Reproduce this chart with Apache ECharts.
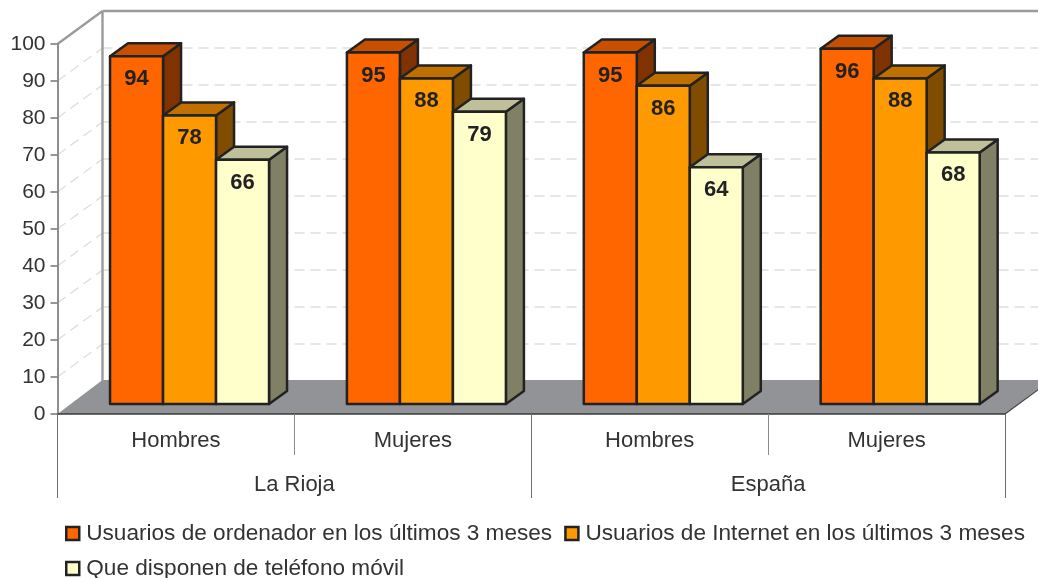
<!DOCTYPE html>
<html>
<head>
<meta charset="utf-8">
<style>html,body{margin:0;padding:0;background:#fff}#c{width:1038px;height:578px}</style>
<script src="https://cdn.jsdelivr.net/npm/echarts@6/dist/echarts.min.js"></script>
</head>
<body>
<div id="c"></div>
<script>
const subCategories = ['Hombres', 'Mujeres', 'Hombres', 'Mujeres'];
const regions = ['La Rioja', 'España'];
const yTicks = [0, 10, 20, 30, 40, 50, 60, 70, 80, 90, 100];
const ordenador = [94, 95, 95, 96];
const internet = [78, 88, 86, 88];
const movil = [66, 79, 64, 68];
const names = ['Usuarios de ordenador en los últimos 3 meses', 'Usuarios de Internet en los últimos 3 meses', 'Que disponen de teléfono móvil'];
const FONT = '"Liberation Sans", Arial, sans-serif';
const INK = '#333333';
const EDGE = '#222222';

const wallDX = 45, wallDY = -33;       // oblique projection of the chart box
const frontDX = 13.6, frontDY = -10;   // front plane of the bars
const depthDX = 18, depthDY = -13;     // bar depth
const barW = 53;

const chart = echarts.init(document.getElementById('c'), null, { renderer: 'canvas' });

function renderWalls(params, api) {
  const cs = params.coordSys;
  const L = cs.x, R = cs.x + cs.width, B = api.coord([0, 0])[1], T = api.coord([0, 100])[1];
  const kids = [];
  kids.push({ type: 'polygon', shape: { points: [[L, B], [R, B], [R + wallDX, B + wallDY - 1], [L + wallDX, B + wallDY - 1]] },
    style: { fill: '#929397', stroke: null } });
  yTicks.forEach(v => {
    if (v === 0 || v === 100) return;
    const y = api.coord([0, v])[1];
    const st = { stroke: '#dedede', lineWidth: 1.3, lineDash: [10, 6], fill: null };
    kids.push({ type: 'line', shape: { x1: L + wallDX, y1: y + wallDY, x2: R + wallDX, y2: y + wallDY }, style: st });
    kids.push({ type: 'line', shape: { x1: L, y1: y, x2: L + wallDX, y2: y + wallDY }, style: st });
  });
  const wall = { stroke: '#9b9b9d', lineWidth: 2.4, fill: null };
  kids.push({ type: 'line', shape: { x1: L + wallDX, y1: B + wallDY, x2: L + wallDX, y2: T + wallDY }, style: wall });
  kids.push({ type: 'line', shape: { x1: L + wallDX, y1: T + wallDY, x2: R + wallDX, y2: T + wallDY }, style: wall });
  kids.push({ type: 'line', shape: { x1: L, y1: T, x2: L + wallDX, y2: T + wallDY }, style: wall });
  kids.push({ type: 'line', shape: { x1: R, y1: B, x2: R + wallDX, y2: B + wallDY },
    style: { stroke: '#444', lineWidth: 1.2, fill: null } });
  return { type: 'group', children: kids, silent: true };
}

function barRenderer(slot, front, top, side) {
  return function (params, api) {
    const cat = api.value(0), val = api.value(1);
    const base = api.coord([cat, 0]), head = api.coord([cat, val]);
    const x0 = base[0] + frontDX + (slot - 1.5) * barW, x1 = x0 + barW;
    const yB = base[1] + frontDY, yT = head[1] + frontDY;
    const stroke = { stroke: EDGE, lineWidth: 2.5, lineJoin: 'round' };
    return {
      type: 'group',
      children: [
        { type: 'polygon', shape: { points: [[x1, yT], [x1 + depthDX, yT + depthDY], [x1 + depthDX, yB + depthDY], [x1, yB]] },
          style: Object.assign({ fill: side }, stroke) },
        { type: 'polygon', shape: { points: [[x0, yT], [x0 + depthDX, yT + depthDY], [x1 + depthDX, yT + depthDY], [x1, yT]] },
          style: Object.assign({ fill: top }, stroke) },
        { type: 'rect', shape: { x: x0, y: yT, width: barW, height: yB - yT },
          style: Object.assign({ fill: front }, stroke) },
        { type: 'text', x: (x0 + x1) / 2, y: yT + 23,
          style: { text: String(val), fill: EDGE, font: 'bold 22px ' + FONT, align: 'center', verticalAlign: 'middle' } }
      ]
    };
  };
}

function barSeries(i, values, front, top, side) {
  return {
    type: 'custom', name: names[i], z: 3, clip: false, color: front,
    itemStyle: { color: front },
    encode: { x: 0, y: 1 },
    data: values.map((v, k) => [k, v]),
    renderItem: barRenderer(i, front, top, side)
  };
}

chart.setOption({
  animation: false,
  backgroundColor: '#ffffff',
  textStyle: { fontFamily: FONT },
  grid: { left: 57.5, right: 33, top: 44, bottom: 164, containLabel: false },
  xAxis: [
    { type: 'category', data: subCategories, position: 'bottom', z: 5,
      axisLine: { show: true, lineStyle: { color: '#3a3a3a', width: 1.5 } },
      axisTick: { show: true, length: 41, lineStyle: { color: '#8a8a8a', width: 1 } },
      axisLabel: { color: INK, fontSize: 22, fontFamily: FONT, margin: 16 } },
    { type: 'category', data: regions, position: 'bottom', z: 5,
      axisLine: { show: false },
      axisTick: { show: true, length: 84, lineStyle: { color: '#6e6e6e', width: 1 } },
      axisLabel: { color: INK, fontSize: 22, fontFamily: FONT, margin: 60 } }
  ],
  yAxis: { type: 'value', min: 0, max: 100, interval: 10, z: 5,
    axisLine: { show: true, lineStyle: { color: '#8f8f91', width: 2 } },
    axisTick: { show: true, length: 7, lineStyle: { color: '#777', width: 1.5 } },
    axisLabel: { color: INK, fontSize: 21, fontFamily: FONT, margin: 12, padding: [6, 0, 0, 0] },
    splitLine: { show: false } },
  legend: {
    show: true, left: 58, top: 522, width: 980, orient: 'horizontal',
    itemWidth: 13, itemHeight: 13, itemGap: 12, icon: 'rect', padding: [0, 0, 0, 7],
    data: names,
    itemStyle: { borderColor: EDGE, borderWidth: 2.5 },
    textStyle: { color: INK, fontSize: 22.6, fontFamily: FONT, padding: [0, 0, 0, 2] }
  },
  series: [
    { type: 'custom', name: 'walls', z: 1, clip: false, silent: true, data: [[0, 0]], encode: { x: 0, y: 1 }, renderItem: renderWalls },
    barSeries(0, ordenador, '#FF6600', '#C65000', '#803300'),
    barSeries(1, internet, '#FF9900', '#C07000', '#804D00'),
    barSeries(2, movil, '#FFFFCC', '#BFBF99', '#808066')
  ]
});
</script>
</body>
</html>
